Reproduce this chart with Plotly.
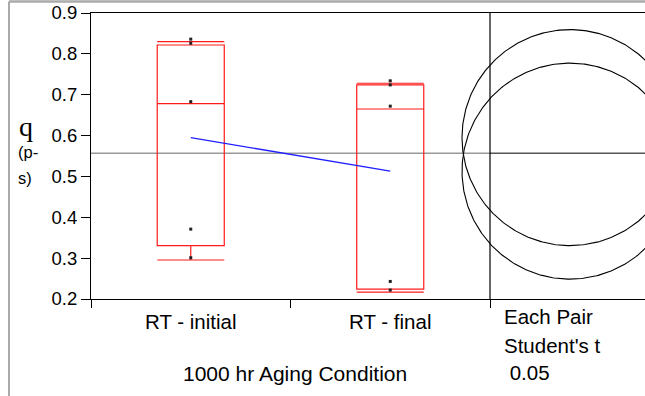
import numpy as np
import plotly.graph_objects as go

# ---- data ----
categories = ["RT - initial", "RT - final"]
q1 = [0.3305, 0.224]
medians = [0.678, 0.665]
q3 = [0.8217, 0.724]
lower_fence = [0.2955, 0.217]
upper_fence = [0.8298, 0.728]
points_initial = [0.836, 0.826, 0.683, 0.371, 0.301]
points_final = [0.734, 0.724, 0.672, 0.243, 0.222]
means = [0.595, 0.513]
grand_mean = 0.557
circle_radius = [0.2643, 0.2643]
y_ticks = [0.2, 0.3, 0.4, 0.5, 0.6, 0.7, 0.8, 0.9]

# ---- layout geometry ----
W, H = 645, 396
ML, MR, MT, MB = 91, 0, 13, 97
plot_w = W - ML - MR
plot_h = H - MT - MB
DIVIDER_PX = 490
CIRCLE_CX_PX = 570
split = (DIVIDER_PX - ML) / plot_w
y_range = [0.2, 0.9]
px_per_unit = plot_h / (y_range[1] - y_range[0])
cat_units_per_px = 2.0 / (DIVIDER_PX - ML)
x_range = [-0.5, -0.5 + plot_w * cat_units_per_px]
x2_range = [(ML - CIRCLE_CX_PX) / px_per_unit, (W - MR - CIRCLE_CX_PX) / px_per_unit]

FONT = "Liberation Sans, Arial, sans-serif"

fig = go.Figure()

for i, cat in enumerate(categories):
    fig.add_trace(go.Box(
        x=[cat], q1=[q1[i]], median=[medians[i]], q3=[q3[i]],
        lowerfence=[lower_fence[i]], upperfence=[upper_fence[i]],
        width=0.336, whiskerwidth=1, boxpoints=False,
        line=dict(color="#ff1a1a", width=1.2), fillcolor="rgba(0,0,0,0)",
        showlegend=False, hoverinfo="skip", xaxis="x", yaxis="y"))

pts_x = [categories[0]] * len(points_initial) + [categories[1]] * len(points_final)
pts_y = points_initial + points_final
fig.add_trace(go.Scatter(
    x=pts_x, y=pts_y, mode="markers",
    marker=dict(symbol="square", size=3, color="#222222"),
    showlegend=False, xaxis="x", yaxis="y"))

fig.add_trace(go.Scatter(
    x=categories, y=means, mode="lines",
    line=dict(color="#2020ff", width=1.3),
    showlegend=False, xaxis="x", yaxis="y"))

theta = np.linspace(0, 2 * np.pi, 400)
for m, r in zip(means, circle_radius):
    fig.add_trace(go.Scatter(
        x=r * np.cos(theta), y=m + r * np.sin(theta),
        mode="lines", line=dict(color="black", width=1.1),
        showlegend=False, xaxis="x2", yaxis="y"))

shapes = [
    dict(type="line", xref="paper", yref="y", x0=0, x1=split, y0=grand_mean, y1=grand_mean,
         line=dict(color="#999999", width=1.5), layer="below"),
    dict(type="line", xref="paper", yref="y", x0=split, x1=1, y0=grand_mean, y1=grand_mean,
         line=dict(color="#555555", width=1.5), layer="below"),
    dict(type="line", xref="paper", yref="paper", x0=split, x1=split, y0=0, y1=1,
         line=dict(color="black", width=1.2)),
    dict(type="line", xref="paper", yref="paper",
         x0=(9 - ML) / plot_w, x1=(9 - ML) / plot_w,
         y0=(MT + plot_h - H) / plot_h, y1=(MT + plot_h - 1.5) / plot_h,
         line=dict(color="#aaaaaa", width=2)),
    dict(type="line", xref="paper", yref="paper",
         x0=(9 - ML) / plot_w, x1=1,
         y0=(MT + plot_h - 1.5) / plot_h, y1=(MT + plot_h - 1.5) / plot_h,
         line=dict(color="#aaaaaa", width=2.5)),
]

def px_x(px):
    return (px - ML) / plot_w

def px_y(py):
    return (MT + plot_h - py) / plot_h

annotations = [
    dict(text="q", x=px_x(17), y=px_y(126), xref="paper", yref="paper",
         xanchor="left", yanchor="middle", showarrow=False,
         font=dict(family="Liberation Serif, Times New Roman, serif", size=28, color="black")),
    dict(text="(p-", x=px_x(16), y=px_y(152), xref="paper", yref="paper",
         xanchor="left", yanchor="middle", showarrow=False,
         font=dict(family=FONT, size=16.5, color="black")),
    dict(text="s)", x=px_x(16), y=px_y(178), xref="paper", yref="paper",
         xanchor="left", yanchor="middle", showarrow=False,
         font=dict(family=FONT, size=16.5, color="black")),
    dict(text="1000 hr Aging Condition", x=px_x(295), y=px_y(373), xref="paper", yref="paper",
         xanchor="center", yanchor="middle", showarrow=False,
         font=dict(family=FONT, size=21, color="black")),
    dict(text="Each Pair", x=px_x(502), y=px_y(316), xref="paper", yref="paper",
         xanchor="left", yanchor="middle", showarrow=False,
         font=dict(family=FONT, size=20.5, color="black")),
    dict(text="Student's t", x=px_x(502), y=px_y(345), xref="paper", yref="paper",
         xanchor="left", yanchor="middle", showarrow=False,
         font=dict(family=FONT, size=20.5, color="black")),
    dict(text=" 0.05", x=px_x(502), y=px_y(372), xref="paper", yref="paper",
         xanchor="left", yanchor="middle", showarrow=False,
         font=dict(family=FONT, size=20.5, color="black")),
]

fig.update_layout(
    width=W, height=H,
    margin=dict(l=ML, r=MR, t=MT, b=MB, pad=0, autoexpand=False),
    paper_bgcolor="white", plot_bgcolor="white",
    font=dict(family=FONT, size=18, color="black"),
    showlegend=False,
    xaxis=dict(domain=[0, 1], type="category", categoryorder="array",
               categoryarray=categories, range=x_range,
               tickson="boundaries", ticks="outside", ticklen=8, tickcolor="black",
               ticklabelstandoff=4,
               showline=True, linecolor="black", linewidth=1, mirror=True,
               showgrid=False, zeroline=False, anchor="y", automargin=False,
               tickfont=dict(family=FONT, size=20.5, color="black")),
    xaxis2=dict(domain=[0, 1], range=x2_range, overlaying="x",
                showticklabels=False, ticks="", showline=False,
                showgrid=False, zeroline=False, anchor="y"),
    yaxis=dict(range=y_range, tickvals=y_ticks, tickformat=".1f",
               ticks="outside", ticklen=9, tickcolor="black",
               showline=True, linecolor="black", linewidth=1,
               showgrid=False, zeroline=False, automargin=False,
               tickfont=dict(family=FONT, size=18.5, color="black")),
    shapes=shapes,
    annotations=annotations,
)

fig.write_html("out.html",
               config={"displayModeBar": False},
               post_script="document.body.style.margin='0';document.body.style.overflow='hidden';")
